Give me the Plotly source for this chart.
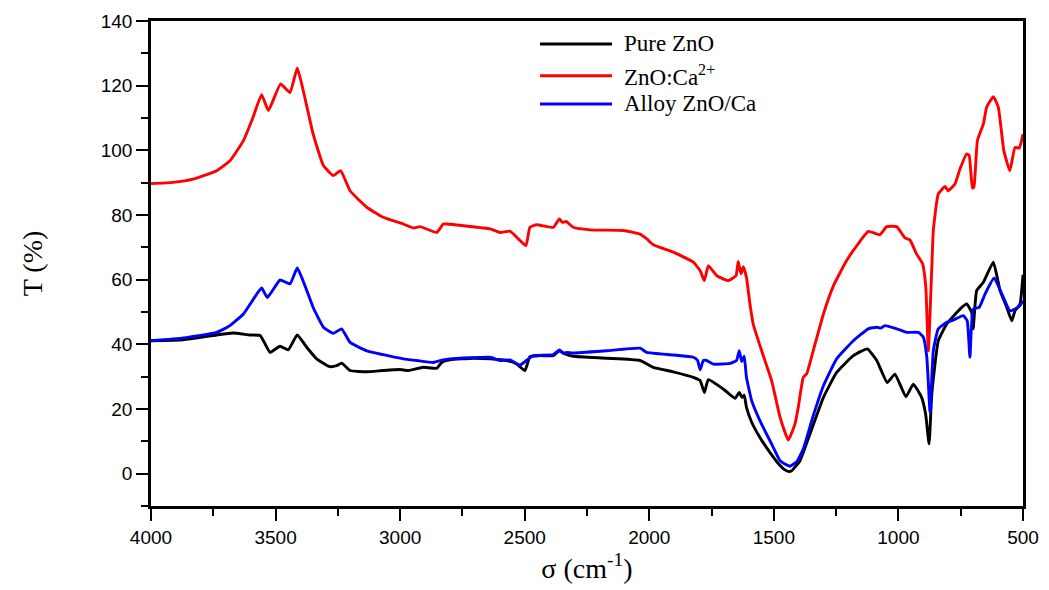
import plotly.graph_objects as go

# ---------------- data ----------------
pure_w = [4000, 3870, 3736, 3670, 3603, 3562, 3542, 3522, 3482, 3449, 3413, 3375, 3335, 3282,
          3255, 3235, 3201, 3134, 3068, 3001, 2967, 2907, 2853, 2833, 2800, 2706, 2639, 2572,
          2532, 2499, 2479, 2439, 2385, 2361, 2338, 2305, 2171, 2037, 1984, 1904, 1823, 1796,
          1779, 1763, 1703, 1656, 1639, 1628, 1619, 1610, 1589, 1556, 1516, 1475, 1460, 1442,
          1430, 1395, 1355, 1301, 1248, 1181, 1125, 1087, 1045, 1014, 970, 940, 907, 891, 877,
          866, 840, 806, 753, 726, 706, 700, 686, 659, 619, 592, 565, 545, 532, 512, 500]
pure_t = [41.1, 41.4, 42.9, 43.5, 42.9, 42.7, 40.1, 37.5, 39.4, 38.3, 42.9, 39.1, 35.5, 33.1,
          33.4, 34.2, 31.9, 31.5, 31.9, 32.2, 31.9, 32.9, 32.6, 34.4, 35.2, 35.7, 35.5, 35.0,
          33.9, 31.9, 36.2, 36.5, 36.5, 38.0, 37.0, 36.3, 35.7, 35.0, 32.9, 31.5, 29.8, 28.8,
          25.1, 29.1, 26.2, 23.3, 25.1, 23.6, 24.3, 20.5, 15.9, 11.2, 6.6, 2.5, 1.4, 0.7,
          0.8, 4.0, 12.3, 23.6, 31.3, 36.5, 38.6, 35.0, 28.2, 30.8, 23.8, 27.7, 23.6, 18.5, 9.2,
          24.7, 41.1, 46.3, 50.9, 52.5, 49.9, 44.8, 56.6, 59.2, 65.4, 56.6, 51.4, 47.3, 50.4, 52.5, 61.5]

ca_w = [4000, 3912, 3831, 3736, 3683, 3629, 3590, 3556, 3529, 3480, 3442, 3413, 3389, 3349,
        3308, 3268, 3239, 3201, 3134, 3068, 2987, 2947, 2920, 2853, 2827, 2813, 2639, 2599,
        2559, 2519, 2495, 2479, 2452, 2385, 2361, 2348, 2334, 2305, 2238, 2104, 2037, 2010,
        1984, 1904, 1823, 1796, 1779, 1763, 1729, 1683, 1652, 1643, 1632, 1623, 1610, 1596,
        1583, 1549, 1509, 1475, 1442, 1415, 1402, 1382, 1368, 1342, 1301, 1261, 1208, 1167,
        1121, 1074, 1047, 1007, 974, 954, 927, 903, 890, 880, 866, 860, 840, 813, 800, 773,
        753, 726, 716, 703, 697, 683, 659, 646, 619, 599, 577, 553, 532, 515, 500]
ca_t = [89.7, 90.1, 91.1, 93.7, 96.8, 103.0, 110.3, 117.2, 112.3, 120.5, 117.9, 125.5, 118.5, 105.0,
        95.3, 92.2, 93.7, 87.5, 82.4, 79.3, 77.2, 76.0, 76.4, 74.6, 77.2, 77.2, 75.7, 74.6,
        75.0, 72.1, 70.5, 76.2, 77.0, 76.2, 78.8, 77.7, 78.0, 76.2, 75.4, 75.2, 74.1, 72.6,
        70.8, 68.5, 65.4, 62.8, 59.7, 64.3, 61.2, 59.7, 61.2, 65.6, 61.8, 64.0, 60.7, 52.5,
        46.3, 38.0, 28.8, 17.4, 10.4, 15.4, 20.5, 29.8, 30.9, 38.0, 49.4, 58.1, 65.9, 70.5,
        74.9, 73.9, 76.4, 76.4, 72.9, 72.3, 67.9, 64.9, 57.6, 38.0, 63.8, 75.2, 86.5, 88.8, 87.5, 89.6,
        94.2, 98.9, 98.4, 88.3, 88.6, 103.0, 108.2, 113.3, 116.6, 113.3, 99.9, 93.7, 100.9, 100.7, 105.0]

alloy_w = [4000, 3870, 3736, 3683, 3629, 3589, 3556, 3533, 3482, 3442, 3413, 3382, 3349, 3308,
           3268, 3235, 3201, 3134, 3068, 2987, 2934, 2867, 2827, 2800, 2639, 2599, 2559, 2519,
           2485, 2465, 2385, 2361, 2345, 2332, 2305, 2171, 2037, 2010, 1904, 1823, 1806, 1796,
           1783, 1770, 1743, 1676, 1650, 1639, 1629, 1619, 1610, 1589, 1556, 1509, 1475, 1442,
           1435, 1408, 1382, 1342, 1301, 1248, 1181, 1121, 1087, 1071, 1054, 1007, 967, 920,
           900, 886, 873, 860, 840, 806, 780, 740, 724, 713, 700, 676, 652, 616, 585, 553,
           532, 512, 500]
alloy_t = [41.1, 42.0, 43.7, 45.8, 49.4, 54.0, 57.4, 54.5, 59.9, 58.7, 63.6, 58.1, 51.4, 45.3,
           43.4, 44.8, 40.6, 38.0, 36.8, 35.5, 35.0, 34.4, 35.2, 35.5, 36.0, 35.0, 35.2, 33.6,
           35.5, 36.5, 36.8, 38.3, 37.2, 37.5, 37.3, 38.0, 38.8, 37.5, 36.7, 36.0, 35.0, 32.1,
           35.0, 35.0, 33.9, 34.1, 35.0, 38.0, 34.7, 36.3, 29.8, 22.6, 16.4, 9.2, 4.0, 2.5,
           2.3, 3.7, 7.6, 17.9, 27.2, 35.5, 41.1, 44.8, 45.3, 45.0, 45.8, 44.8, 43.7, 43.7,
           42.2, 36.0, 19.0, 38.0, 44.8, 46.8, 47.5, 48.9, 47.3, 36.0, 50.9, 51.4, 55.6, 60.5, 55.6, 50.4,
           50.9, 52.0, 53.5]

series_names = ["Pure ZnO", "ZnO:Ca<sup>2+</sup>", "Alloy ZnO/Ca"]
series_colors = ["#000000", "#FF0000", "#0000FF"]
x_ticks = [4000, 3500, 3000, 2500, 2000, 1500, 1000, 500]
y_ticks = [0, 20, 40, 60, 80, 100, 120, 140]

# ---------------- figure ----------------
fig = go.Figure()
for (xw, yt), name, col in zip([(pure_w, pure_t), (ca_w, ca_t), (alloy_w, alloy_t)],
                               series_names, series_colors):
    fig.add_trace(go.Scatter(x=xw, y=yt, mode="lines", name=name,
                             line=dict(color=col, width=2.9, shape="spline", smoothing=0.4),
                             showlegend=False))

# manual legend (line samples + labels)
leg_y = [0.9526, 0.8872, 0.8289]
for name, col, yy in zip(series_names, series_colors, leg_y):
    fig.add_shape(type="line", xref="paper", yref="paper", x0=0.4461, x1=0.5287, y0=yy, y1=yy,
                  line=dict(color=col, width=2.9))
    fig.add_annotation(xref="paper", yref="paper", x=0.5401, y=yy, text=name, showarrow=False,
                       xanchor="left", yanchor="middle",
                       font=dict(family="Liberation Serif, Times New Roman, serif", size=23, color="#000"))

tick_font = dict(family="Liberation Sans, Arial, sans-serif", size=19, color="#000")
title_font = dict(family="Liberation Serif, Times New Roman, serif", size=28, color="#000")

fig.update_xaxes(range=[4000, 500], tickvals=x_ticks, ticktext=[str(v) for v in x_ticks],
                 ticks="outside", ticklen=12, tickwidth=2, tickcolor="#000",
                 minor=dict(ticks="outside", ticklen=7, tickwidth=2, tickcolor="#000", dtick=250),
                 showline=True, linewidth=2.5, linecolor="#000", mirror=True,
                 showgrid=False, zeroline=False, tickfont=tick_font, automargin=False,
                 title=dict(text="σ (cm<sup>-1</sup>)", font=title_font, standoff=12))
fig.update_yaxes(range=[-10, 140], tickvals=y_ticks, ticktext=[str(v) for v in y_ticks],
                 ticks="outside", ticklen=12, tickwidth=2, tickcolor="#000",
                 minor=dict(ticks="outside", ticklen=7, tickwidth=2, tickcolor="#000", dtick=10),
                 showline=True, linewidth=2.5, linecolor="#000", mirror=True,
                 showgrid=False, zeroline=False, tickfont=tick_font, automargin=False,
                 title=dict(text="T (%)", font=title_font, standoff=50))

fig.update_layout(width=1049, height=590, plot_bgcolor="#FFFFFF", paper_bgcolor="#FFFFFF",
                  margin=dict(l=151, r=26, t=21, b=84), showlegend=False)

fig.write_html("out.html")
